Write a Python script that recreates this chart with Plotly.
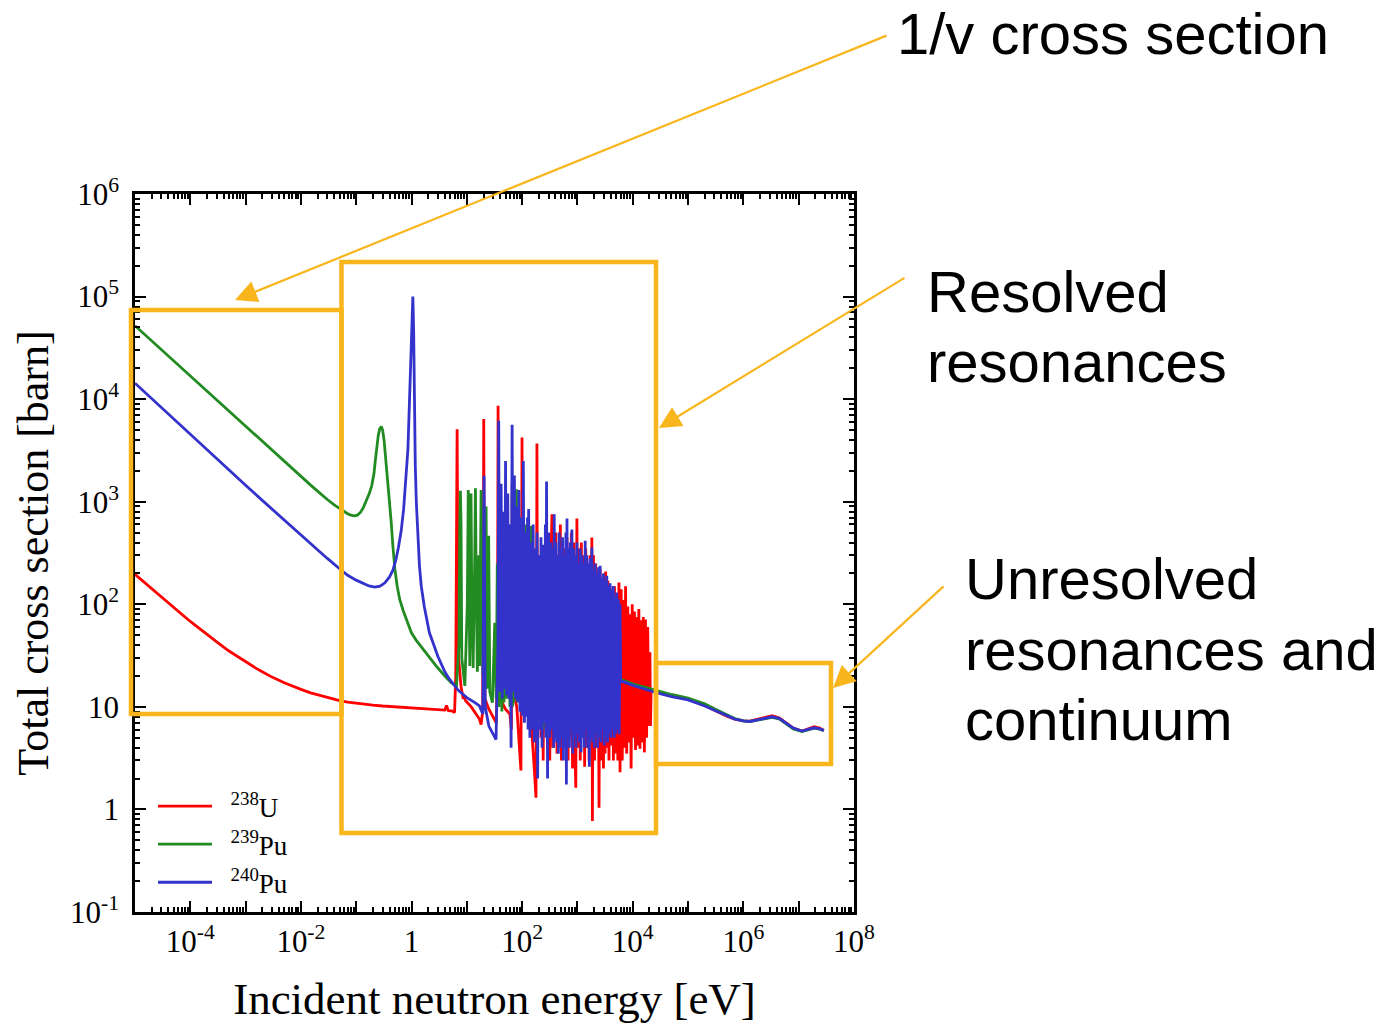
import plotly.graph_objects as go

# ---------------- data (energy [eV], total cross section [barn]) ----------------
u238_points = [
    (1e-5, 196), (1.5e-5, 162), (2e-5, 141), (3e-5, 117), (5e-5, 93), (7e-5, 80), (1e-4, 68),
    (1.5e-4, 57), (2e-4, 51), (3e-4, 43), (5e-4, 35), (7e-4, 31), (1e-3, 27.5), (1.5e-3, 24),
    (2e-3, 22), (3e-3, 19.5), (5e-3, 17.2), (7e-3, 15.9), (1e-2, 14.8), (1.5e-2, 13.7),
    (2e-2, 13.1), (3e-2, 12.3), (5e-2, 11.5), (7e-2, 11.1), (0.1, 10.8), (0.2, 10.4), (0.3, 10.2),
    (0.5, 10.0), (1.0, 9.8), (2.0, 9.6), (3.0, 9.4), (4.0, 9.3), (4.3, 10.3), (4.6, 9.2), (5.5, 9.1),
    (6.0, 8.8), (6.3, 20), (6.5, 300), (6.67, 5100), (6.85, 300), (7.1, 30), (7.85, 15.8), (8.6, 12),
    (8.9, 12.5), (9.5, 11.5), (12, 10), (15, 8.5), (16.9, 7.6), (18.1, 6.7), (19.3, 9), (19.9, 300),
    (20.2, 6400), (20.6, 200), (21.2, 12), (25, 9.5), (30, 8.0), (34, 7.0), (35.8, 25), (36.4, 1000),
    (36.7, 8600), (37.1, 800), (37.8, 30), (40, 12), (50, 9.5), (60, 8.5), (64, 6), (65.5, 300),
    (66, 1500), (66.6, 200), (67.5, 15), (80, 10), (95, 2.4), (98, 50), (99.5, 4230), (101, 150),
    (103, 20), (115, 12), (140, 10), (170, 2.0), (178, 1.3), (182, 60), (185, 3700), (188, 100),
    (192, 15),
    (200, 6), (209, 200), (219, 5), (229, 150), (240, 3), (251, 300), (263, 6), (275, 120), (288, 4),
    (302, 400), (316, 3), (331, 250), (346, 755), (359, 4), (372, 350), (389, 6), (407, 500),
    (427, 3.5), (447, 300), (468, 5.2), (490, 600), (513, 3), (537, 400), (562, 5), (589, 350),
    (617, 4), (646, 450), (676, 3), (708, 300), (741, 5), (776, 500), (813, 2.5), (851, 400), (891, 5),
    (933, 1.63), (977, 686), (1023, 4), (1072, 350), (1122, 3), (1175, 400), (1230, 5), (1288, 300),
    (1349, 2.6), (1413, 350), (1479, 4), (1549, 250), (1622, 3), (1698, 300), (1778, 5), (1820, 447),
    (1862, 0.77), (1950, 300), (2042, 3), (2138, 250), (2239, 4), (2344, 200), (2455, 1.04),
    (2570, 220), (2692, 3), (2818, 180), (2951, 2.5), (3090, 200), (3162, 3.5), (3236, 209),
    (3388, 4), (3548, 170), (3715, 3), (3890, 150), (4074, 4.2), (4266, 130), (4467, 3), (4677, 150),
    (4898, 3.5), (5129, 120), (5370, 3), (5623, 163), (5888, 2.3), (6166, 140), (6457, 3),
    (6761, 110), (7079, 4), (7413, 150), (7762, 3.5), (8128, 95), (8511, 4.5), (8913, 80),
    (9333, 2.5), (9772, 100), (10230, 5), (10720, 85), (11220, 3.8), (11750, 75), (12300, 4.2),
    (12880, 90), (13490, 3.9), (14130, 70), (14790, 4.5), (15490, 75), (16220, 3.6), (16980, 71),
    (17780, 5), (18620, 60), (19500, 6.5), (20420, 34), (20890, 6.5), (21500, 14.6),
    (3e4, 13.7), (5e4, 12.8), (1e5, 11.8), (2e5, 10.3), (3.2e5, 9.1), (5e5, 8.1), (7e5, 7.6),
    (1e6, 7.3), (1.3e6, 7.25), (2e6, 7.7), (3.3e6, 8.2), (4.5e6, 7.8), (5.8e6, 7.0), (8e6, 6.2),
    (1.15e7, 5.8), (1.5e7, 6.1), (1.9e7, 6.4), (2.4e7, 6.2), (2.85e7, 5.9),
]

pu239_points = [
    (1e-5, 52000), (2e-5, 37000), (3e-5, 30200), (5e-5, 23500), (1e-4, 16800), (2e-4, 12000),
    (3e-4, 9800), (5e-4, 7600), (1e-3, 5400), (2e-3, 3850), (3e-3, 3150), (5e-3, 2450),
    (7e-3, 2080), (1e-2, 1750), (1.5e-2, 1450), (2e-2, 1270), (2.5e-2, 1140), (3e-2, 1050),
    (4e-2, 930), (5e-2, 855), (6e-2, 800), (7e-2, 765), (8e-2, 740), (0.093, 727), (0.105, 740),
    (0.12, 790), (0.135, 880), (0.15, 990), (0.17, 1180), (0.19, 1420), (0.2, 1600), (0.21, 1900),
    (0.22, 2450), (0.236, 3500), (0.25, 4400), (0.265, 5100), (0.284, 5400), (0.30, 5000),
    (0.32, 3900), (0.35, 2240), (0.375, 1500), (0.40, 1060), (0.43, 620), (0.46, 370), (0.5, 220),
    (0.55, 150), (0.61, 112), (0.7, 88), (0.8, 72), (0.9, 60), (0.99, 53), (1.2, 45), (1.6, 37),
    (2.0, 31), (2.8, 25), (4.0, 20), (5.2, 17.2), (6.5, 16),
    (7.2, 40), (7.45, 600), (7.65, 1280), (7.85, 600), (8.1, 30), (9.2, 16), (10.2, 100), (10.6, 1300),
    (11.0, 200), (11.3, 25), (11.6, 300), (11.9, 1200), (12.3, 100), (13.0, 24), (13.9, 300),
    (14.3, 1350), (14.7, 200), (15.5, 22), (16.5, 300), (17.0, 25), (17.7, 300), (18.1, 1300),
    (18.5, 200), (19.5, 20), (22.0, 250), (22.3, 900), (22.7, 100), (23.5, 15), (24.8, 465), (26, 14),
    (29, 11), (32, 66), (34, 12), (35.5, 250), (38, 10), (41.5, 500), (43, 9), (44.5, 300), (47, 11),
    (50, 1180), (52, 12), (53, 1100), (55, 14), (57.4, 600), (60, 10), (63, 300), (66, 10), (75, 14),
    (79, 1320), (81, 11), (85, 900), (88, 12), (90.8, 700), (95, 9), (103, 300), (110, 12), (116, 600),
    (120, 12), (127, 350), (130, 14), (136, 234), (140, 11), (145, 580), (150, 11), (160, 12),
    (170, 250), (182, 8), (195, 300), (209, 7), (224, 200), (240, 6), (257, 310), (275, 8), (295, 200),
    (316, 6), (339, 270), (363, 7), (389, 150), (417, 6), (447, 200), (479, 7), (513, 150), (550, 6),
    (589, 120), (631, 7), (676, 150), (724, 8), (776, 100), (832, 7), (891, 120), (955, 8), (1023, 90),
    (1096, 8), (1175, 100), (1259, 9), (1349, 80), (1445, 9), (1549, 70), (1660, 10), (1778, 60),
    (1905, 11), (2042, 50), (2188, 12), (2344, 40), (2512, 20),
    (6000, 18.5), (1e4, 16.8), (2.1e4, 15.0), (3e4, 14.2), (5e4, 13.2), (1e5, 12.2), (2e5, 10.7),
    (3.2e5, 9.4), (5e5, 8.3), (7e5, 7.7), (1e6, 7.3), (1.3e6, 7.2), (2e6, 7.5), (3.3e6, 7.9),
    (4.5e6, 7.6), (5.8e6, 6.9), (8e6, 6.1), (1.15e7, 5.75), (1.5e7, 5.95), (1.9e7, 6.2),
    (2.4e7, 6.05), (2.85e7, 5.85),
]

pu240_points = [
    (1e-5, 14300), (2e-5, 10100), (3e-5, 8250), (5e-5, 6400), (1e-4, 4550), (2e-4, 3220),
    (3e-4, 2630), (5e-4, 2050), (1e-3, 1450), (2e-3, 1030), (3e-3, 845), (5e-3, 660), (7e-3, 560),
    (1e-2, 470), (1.5e-2, 390), (2e-2, 340), (3e-2, 280), (5e-2, 222), (7e-2, 192), (0.1, 172),
    (0.13, 160), (0.17, 151), (0.215, 147), (0.27, 150), (0.33, 162), (0.4, 185), (0.46, 215),
    (0.52, 270), (0.58, 360), (0.65, 520), (0.72, 850), (0.79, 1600), (0.86, 3250), (0.92, 10000),
    (0.97, 30000), (1.01, 70000), (1.056, 100000), (1.09, 50000), (1.11, 15000), (1.13, 4780),
    (1.17, 2200), (1.22, 1000), (1.28, 520), (1.39, 237), (1.5, 150), (1.7, 95), (2.1, 53),
    (2.5, 40), (3.0, 31), (4.0, 22), (4.85, 18.6), (7, 14.5), (10, 12.3), (14, 11), (16.9, 10.2),
    (19.5, 8.5), (20.0, 300), (20.5, 1790), (20.9, 200), (21.5, 10), (25, 6.5), (30, 5.5),
    (33.7, 4.8), (36.5, 40), (37.7, 6140), (38.8, 60),
    (39.8, 14), (41.7, 1500), (43.7, 12), (45.7, 800), (47.9, 15), (50.1, 2500), (52.5, 13),
    (55.0, 1200), (57.5, 12), (60.3, 600), (63.1, 4.0), (65.8, 5620), (69.2, 14), (72.4, 1800),
    (75.9, 12), (79.4, 900), (83.2, 11), (87.1, 1300), (91.2, 9), (95.5, 700), (100, 8.2), (105, 2500),
    (110, 7), (115, 500), (120, 8), (125, 700), (128, 6), (131, 850), (138, 5), (145, 400), (151, 6),
    (158, 600), (166, 4.5), (174, 350), (182, 5), (186, 500), (190.5, 2.0), (200, 300), (209, 6),
    (219, 450), (229, 4), (240, 380), (251, 7), (263, 600), (269, 5), (276, 1570), (288, 2.0),
    (302, 500), (316, 5), (331, 400), (347, 6), (359, 350), (372, 4), (380, 755), (394, 5), (407, 400),
    (422, 4.5), (437, 300), (452, 3.5), (468, 500), (484, 4), (501, 350), (519, 5), (537, 450),
    (556, 3), (575, 300), (596, 4), (617, 500), (631, 1.75), (646, 686), (668, 5), (692, 350),
    (716, 4), (741, 400), (767, 6), (794, 537), (822, 3.5), (851, 350), (881, 5), (912, 300),
    (944, 4), (977, 400), (1012, 5.5), (1047, 250), (1084, 4.5), (1122, 350), (1161, 3.6),
    (1202, 300), (1245, 5), (1288, 250), (1334, 4), (1380, 417), (1429, 6), (1479, 300), (1531, 4),
    (1585, 250), (1641, 2.6), (1698, 280), (1758, 5), (1820, 357), (1884, 4.5), (1950, 220),
    (2018, 4), (2089, 250), (2163, 5.5), (2239, 200), (2317, 4), (2399, 230), (2483, 5), (2570, 237),
    (2661, 4.5), (2754, 180), (2851, 6), (2951, 200), (3055, 4.2), (3162, 170), (3273, 5),
    (3388, 190), (3508, 4.5), (3631, 150), (3758, 5.5), (3890, 160), (4027, 5), (4169, 140),
    (4315, 6), (4467, 151), (4624, 5), (4786, 120), (4955, 5.5), (5129, 130), (5309, 6), (5495, 112),
    (5689, 5.4), (5888, 100), (6026, 18),
    (1e4, 16.2), (2.1e4, 14.3), (3e4, 13.5), (5e4, 12.6), (1e5, 11.7), (2e5, 10.2), (3.2e5, 9.1),
    (5e5, 8.1), (7e5, 7.6), (1e6, 7.3), (1.3e6, 7.2), (2e6, 7.55), (3.3e6, 8.0), (4.5e6, 7.7),
    (5.8e6, 7.0), (8e6, 6.2), (1.15e7, 5.8), (1.5e7, 6.0), (1.9e7, 6.25), (2.4e7, 6.1), (2.85e7, 5.9),
]

series_names = ["&#160;&#160;<sup>238</sup>U", "&#160;&#160;<sup>239</sup>Pu",
                "&#160;&#160;<sup>240</sup>Pu"]
series_colors = ["#ff0000", "#228b22", "#3333cc"]

x_tick_vals = [1e-5, 1e-4, 1e-3, 1e-2, 1e-1, 1, 10, 100, 1e3, 1e4, 1e5, 1e6, 1e7, 1e8]
x_tick_text = ["", "10<sup>-4</sup>", "", "10<sup>-2</sup>", "", "1", "", "10<sup>2</sup>", "",
               "10<sup>4</sup>", "", "10<sup>6</sup>", "", "10<sup>8</sup>"]
y_tick_vals = [0.1, 1, 10, 100, 1e3, 1e4, 1e5, 1e6]
y_tick_text = ["10<sup>-1</sup>", "1", "10", "10<sup>2</sup>", "10<sup>3</sup>",
               "10<sup>4</sup>", "10<sup>5</sup>", "10<sup>6</sup>"]

callout_texts = [
    ("1/v cross section", 895, 33),
    ("Resolved", 925, 291),
    ("resonances", 925, 361),
    ("Unresolved", 963, 578),
    ("resonances and", 963, 649),
    ("continuum", 963, 719),
]

# ---------------- figure ----------------
W, H = 1382, 1024
L, R, T, B = 135, 854, 194, 912


def px(xp):
    return (xp - L) / (R - L)


def py(yp):
    return (B - yp) / (B - T)


fig = go.Figure()
for pts, name, color in zip([u238_points, pu239_points, pu240_points], series_names, series_colors):
    e_vals = [p[0] for p in pts]
    s_vals = [p[1] for p in pts]
    fig.add_trace(go.Scatter(x=e_vals, y=s_vals, mode="lines", name=name,
                             line=dict(color=color, width=2.8)))

minor_x = [m * 10 ** k for k in range(-5, 8) for m in range(2, 10)]
minor_y = [m * 10 ** k for k in range(-1, 6) for m in range(2, 10)]

serif = "Liberation Serif"
axis_common = dict(showline=True, linewidth=2.5, linecolor="black", mirror="allticks",
                   ticks="inside", ticklen=11, tickwidth=2, tickcolor="black",
                   showgrid=False, zeroline=False, automargin=False,
                   tickfont=dict(family=serif, size=31, color="black"))

fig.update_layout(
    width=W, height=H,
    margin=dict(l=L, r=W - R, t=T, b=H - B, autoexpand=False),
    paper_bgcolor="white", plot_bgcolor="white",
    xaxis=dict(type="log", range=[-5, 8], tickmode="array", tickvals=x_tick_vals,
               ticktext=x_tick_text,
               minor=dict(tickmode="array", tickvals=minor_x, ticks="inside", ticklen=5,
                          tickwidth=1.5, tickcolor="black", showgrid=False),
               title=dict(text="Incident neutron energy [eV]", standoff=28,
                          font=dict(family=serif, size=45, color="black")),
               **axis_common),
    yaxis=dict(type="log", range=[-1, 6], tickmode="array", tickvals=y_tick_vals,
               ticktext=y_tick_text, ticklabelstandoff=7,
               minor=dict(tickmode="array", tickvals=minor_y, ticks="inside", ticklen=5,
                          tickwidth=1.5, tickcolor="black", showgrid=False),
               title=dict(text="Total cross section [barn]", standoff=8,
                          font=dict(family=serif, size=44, color="black")),
               **axis_common),
    legend=dict(x=px(153), y=py(782), xanchor="left", yanchor="top", itemwidth=54,
                bgcolor="rgba(0,0,0,0)", font=dict(family=serif, size=27, color="black"),
                tracegroupgap=0),
    showlegend=True,
)

orange = "#f9b51c"
boxes = [(131, 341.5, 310, 714), (341.5, 656, 262, 833), (656, 831, 663, 764)]
for x0, x1, y0, y1 in boxes:
    fig.add_shape(type="rect", xref="paper", yref="paper",
                  x0=px(x0), x1=px(x1), y0=py(y1), y1=py(y0),
                  line=dict(color=orange, width=4.5), fillcolor="rgba(0,0,0,0)")

arrows = [((888, 35), (235, 300)), ((906, 277), (659, 428)), ((945, 585), (833, 688))]
for (tx, ty), (hx, hy) in arrows:
    fig.add_annotation(xref="paper", yref="paper", x=px(hx), y=py(hy),
                       ax=tx - hx, ay=ty - hy, axref="pixel", ayref="pixel",
                       text="", showarrow=True, arrowhead=2, arrowsize=2.0,
                       arrowwidth=2.2, arrowcolor=orange)

for txt, xl, yc in callout_texts:
    fig.add_annotation(xref="paper", yref="paper", x=px(xl), y=py(yc),
                       xanchor="left", yanchor="middle", text=txt, showarrow=False,
                       font=dict(family="Liberation Sans", size=58, color="black"))

fig.write_html("out.html")
